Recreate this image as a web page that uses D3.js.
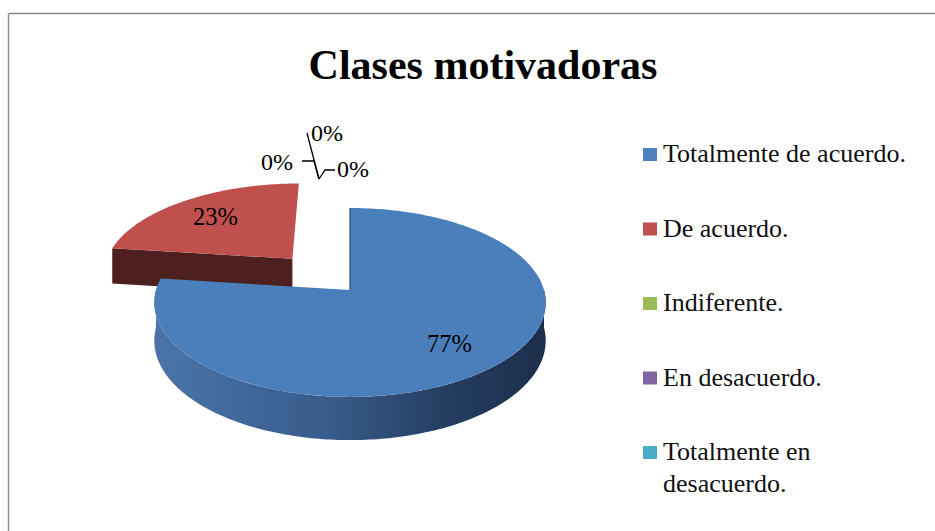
<!DOCTYPE html>
<html>
<head>
<meta charset="utf-8">
<script src="https://cdn.jsdelivr.net/npm/d3@7"></script>
<style>
  body { margin: 0; background: #fff; }
  svg { display: block; font-family: "Liberation Serif", "Times New Roman", serif; }
</style>
</head>
<body>
<svg id="chart" width="935" height="531"></svg>
<script>
// chart data
var categories = ["Totalmente de acuerdo.", "De acuerdo.", "Indiferente.", "En desacuerdo.", "Totalmente en desacuerdo."];
var values = [77, 23, 0, 0, 0];
var explode = [0, 0.47, 0, 0, 0];
var colors = ["#4f81bd", "#c0504d", "#9bbb59", "#8064a2", "#4bacc6"];
var titleText = "Clases motivadoras";

var width = 935, height = 531;
var svg = d3.select("#chart");

// pie geometry (simple perspective projection of a tilted disk)
var cx = 350, cy = 290, RX = 194, RY = 92.8, P = 0.132, DEPTH = 37.5;

function proj(u, v, h) {
  var s = 1 / (1 + P * v);
  return [cx + RX * u * s, cy - RY * v * s + h * DEPTH * s];
}
function pt(d, a, r, h) {
  return proj(d.ou + r * Math.sin(a), d.ov + r * Math.cos(a), h);
}
function arcPts(d, a0, a1, h) {
  var n = Math.max(2, Math.ceil(Math.abs(a1 - a0) / (Math.PI / 180)));
  var out = [];
  for (var i = 0; i <= n; i++) out.push(pt(d, a0 + (a1 - a0) * i / n, 1, h));
  return out;
}
var line = d3.line();

// frame
svg.append("line").attr("x1", 8.5).attr("y1", 13.5).attr("x2", width).attr("y2", 13.5)
  .attr("stroke", "#8a8a8a").attr("stroke-width", 1.4);
svg.append("line").attr("x1", 8.5).attr("y1", 13.5).attr("x2", 8.5).attr("y2", height)
  .attr("stroke", "#8a8a8a").attr("stroke-width", 1.4);

// gradient for the blue side
var defs = svg.append("defs");
var g = defs.append("linearGradient").attr("id", "sideBlue")
  .attr("gradientUnits", "userSpaceOnUse")
  .attr("x1", cx - RX).attr("y1", 0).attr("x2", cx + RX).attr("y2", 0);
g.append("stop").attr("offset", "0%").attr("stop-color", "#4a74a9");
g.append("stop").attr("offset", "45%").attr("stop-color", "#375b8a");
g.append("stop").attr("offset", "75%").attr("stop-color", "#243d60");
g.append("stop").attr("offset", "100%").attr("stop-color", "#1c2f4c");

var sideColor = ["url(#sideBlue)", "#4e1f1f", "#5d7035", "#4d3c61", "#2d6777"];
var topColor = ["#4b7fbc", "#c0504d", "#9bbb59", "#8064a2", "#4bacc6"];

var pie = d3.pie().sort(null).startAngle(0).endAngle(2 * Math.PI);
var arcs = pie(values).map(function(d, i) {
  var mid = (d.startAngle + d.endAngle) / 2;
  d.i = i;
  d.ou = explode[i] * Math.sin(mid);
  d.ov = explode[i] * Math.cos(mid);
  return d;
});

var slices = arcs.filter(function(d) { return d.value > 0; })
  .sort(function(a, b) { return b.ov - a.ov; });

var pieG = svg.append("g").attr("id", "pieg");

slices.forEach(function(d) {
  var a0 = d.startAngle, a1 = d.endAngle;
  var c0 = pt(d, 0, 0, 0), c1 = pt(d, 0, 0, 1);
  // radial face at start angle
  if (Math.sin(a0) < -1e-6) {
    var p0 = pt(d, a0, 1, 0), p1 = pt(d, a0, 1, 1);
    pieG.append("path").attr("d", line([c0, p0, p1, c1]) + "Z").attr("fill", sideColor[d.i] === "url(#sideBlue)" ? "#2b4669" : sideColor[d.i]);
  }
  // radial face at end angle
  if (Math.sin(a1) > 1e-6) {
    var q0 = pt(d, a1, 1, 0), q1 = pt(d, a1, 1, 1);
    pieG.append("path").attr("d", line([c0, q0, q1, c1]) + "Z").attr("fill", d.i === 0 ? "#2b4669" : sideColor[d.i]);
  }
  // outer side, front half only
  var t0 = Math.max(a0, Math.PI / 2), t1 = Math.min(a1, 3 * Math.PI / 2);
  if (t1 > t0) {
    var upper = arcPts(d, t0, t1, 0), lower = arcPts(d, t1, t0, 1);
    pieG.append("path").attr("d", line(upper.concat(lower)) + "Z").attr("fill", sideColor[d.i]);
  }
  // top face
  var topPts = [c0].concat(arcPts(d, a0, a1, 0));
  pieG.append("path").attr("d", line(topPts) + "Z").attr("fill", topColor[d.i]);
  // thin edge where the blue slice starts at 12 o'clock
  if (d.i === 0) {
    pieG.append("path").attr("d", line([c0, pt(d, a0, 1, 0)]))
      .attr("stroke", "#2b4669").attr("stroke-width", 1.2).attr("fill", "none");
  }
});

// data labels for non-zero slices
var fmt = function(v) { return d3.format(".0%")(v / d3.sum(values)); };
arcs.filter(function(d) { return d.value > 0; }).forEach(function(d) {
  var mid = (d.startAngle + d.endAngle) / 2;
  var p = pt(d, mid, d.ou === 0 && d.ov === 0 ? 0.72 : 0.7, 0);
  svg.append("text").attr("x", p[0]).attr("y", p[1]).attr("dy", "0.33em")
    .attr("text-anchor", "middle").attr("font-size", 24.5).attr("fill", "#000")
    .text(fmt(d.value));
});

// zero-value labels with leader lines, converging near the top of the pie
var anchor = [cx - 31, cy - 111];
var zeroLayout = [
  { pts: [[0, 0], [-5, -18], [-17, -18]], tx: -58, ty: -17 },
  { pts: [[0, 0], [-12, -46]], tx: -8, ty: -46 },
  { pts: [[0, 0], [6, -9], [16, -9]], tx: 18, ty: -10 }
];
arcs.filter(function(d) { return d.value === 0; }).forEach(function(d, k) {
  var L = zeroLayout[k];
  svg.append("path")
    .attr("d", line(L.pts.map(function(o) { return [anchor[0] + o[0], anchor[1] + o[1]]; })))
    .attr("fill", "none").attr("stroke", "#000").attr("stroke-width", 1.3);
  svg.append("text").attr("x", anchor[0] + L.tx).attr("y", anchor[1] + L.ty).attr("dy", "0.33em")
    .attr("font-size", 24).attr("fill", "#000").text(fmt(d.value));
});

// title
svg.append("text").attr("x", 483).attr("y", 79).attr("text-anchor", "middle")
  .attr("font-size", 42).attr("font-weight", "bold").attr("fill", "#000").text(titleText);

// legend
var legX = 643, legY0 = 162, legStep = 74.5, legMax = 262;
var leg = svg.append("g").attr("id", "legend");
categories.forEach(function(c, i) {
  var y = legY0 + i * legStep;
  leg.append("rect").attr("x", legX).attr("y", y - 14).attr("width", 14).attr("height", 13)
    .attr("fill", colors[i]);
  var t = leg.append("text").attr("x", legX + 20).attr("y", y)
    .attr("font-size", 26).attr("fill", "#111");
  // wrap long labels
  var words = c.split(" "), lineWords = [], lineNo = 0;
  var ts = t.append("tspan").attr("x", legX + 20).attr("y", y);
  words.forEach(function(w) {
    lineWords.push(w);
    ts.text(lineWords.join(" "));
    if (ts.node().getComputedTextLength() > legMax && lineWords.length > 1) {
      lineWords.pop();
      ts.text(lineWords.join(" "));
      lineWords = [w];
      lineNo++;
      ts = t.append("tspan").attr("x", legX + 20).attr("y", y + lineNo * 32).text(w);
    }
  });
});
</script>
</body>
</html>
